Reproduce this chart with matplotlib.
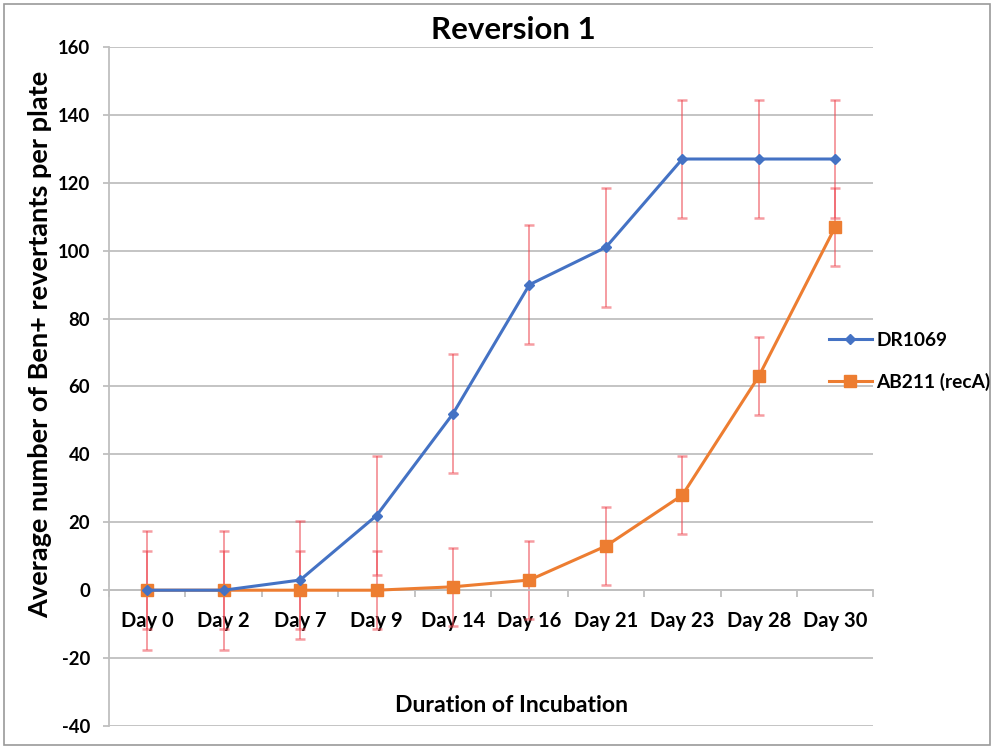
import matplotlib
matplotlib.use("Agg")
import matplotlib.pyplot as plt
from matplotlib.lines import Line2D
from matplotlib.patches import Rectangle
import numpy as np

plt.rcParams['font.family'] = ['Lato', 'DejaVu Sans']
plt.rcParams['axes.unicode_minus'] = False

days = ["Day 0", "Day 2", "Day 7", "Day 9", "Day 14", "Day 16",
        "Day 21", "Day 23", "Day 28", "Day 30"]
dr1069 = [0, 0, 3, 22, 52, 90, 101, 127, 127, 127]
dr1069_err = [17.5] * 10
ab211 = [0, 0, 0, 0, 1, 3, 13, 28, 63, 107]
ab211_err = [11.5] * 10

blue = "#4472c4"
orange = "#ed7d31"
err_col = "#ee4b55"
grid_col = "#bfbfbf"

fig = plt.figure(figsize=(9.94, 7.48), dpi=100)
fig.patches.append(Rectangle((0.004, 0.004), 0.992, 0.99, transform=fig.transFigure,
                             fill=False, edgecolor="#9a9a9a", linewidth=1.2))
ax = fig.add_axes([0.1097, 0.0294, 0.769, 0.9078])

x = np.arange(len(days))

ax.errorbar(x, dr1069, yerr=dr1069_err, fmt='none', ecolor=err_col, alpha=0.55,
            elinewidth=1.4, capsize=3.6, capthick=1.8, zorder=2)
ax.errorbar(x, ab211, yerr=ab211_err, fmt='none', ecolor=err_col, alpha=0.55,
            elinewidth=1.4, capsize=3.6, capthick=1.8, zorder=2)

ax.plot(x, dr1069, color=blue, linewidth=2.2, marker='D', markersize=5.5,
        markeredgecolor=blue, zorder=4, label="DR1069")
ax.plot(x, ab211, color=orange, linewidth=2.2, marker='s', markersize=8,
        markeredgecolor=orange, zorder=3, label="AB211 (recA)")

ax.set_xlim(-0.5, len(days) - 0.5)
ax.set_ylim(-40, 160)
ax.set_yticks(np.arange(-40, 161, 20))
ax.yaxis.grid(True, color=grid_col, linewidth=1.3)
ax.set_axisbelow(True)

for s in ["top", "right"]:
    ax.spines[s].set_visible(False)
ax.spines["left"].set_color(grid_col)
ax.spines["left"].set_linewidth(1.3)
ax.spines["bottom"].set_position(("data", 0))
ax.spines["bottom"].set_color(grid_col)
ax.spines["bottom"].set_linewidth(1.3)

ax.set_xticks(x)
ax.set_xticklabels(days, fontsize=14.5, fontweight='bold')
ax.set_xticks(np.arange(-0.5, len(days), 1.0), minor=True)
ax.tick_params(axis='x', which='major', length=0, pad=15)
ax.tick_params(axis='x', which='minor', length=5, color=grid_col, width=1.3, direction='out')
ax.tick_params(axis='y', length=4.5, color=grid_col, width=1.3, labelsize=13.3, pad=9)
for lbl in ax.get_yticklabels():
    lbl.set_fontweight('bold')

fig.text(0.516, 0.96, "Reversion 1", ha='center', va='center',
         fontsize=22.5, fontweight='bold')
fig.text(0.04, 0.54, "Average number of Ben+ revertants per plate", rotation=90,
         ha='center', va='center', fontsize=19.5, fontweight='bold')
fig.text(0.515, 0.057, "Duration of Incubation", ha='center', va='center',
         fontsize=16.6, fontweight='bold')

handles = [Line2D([], [], color=blue, linewidth=2.2, marker='D', markersize=5.5),
           Line2D([], [], color=orange, linewidth=2.2, marker='s', markersize=8)]
fig.legend(handles, ["DR1069", "AB211 (recA)"], loc='center left',
           bbox_to_anchor=(0.817, 0.517), frameon=False,
           prop={'weight': 'bold', 'size': 13.8}, handlelength=2.2,
           handletextpad=0.26, labelspacing=1.25)

fig.savefig("out.png", dpi=100)
